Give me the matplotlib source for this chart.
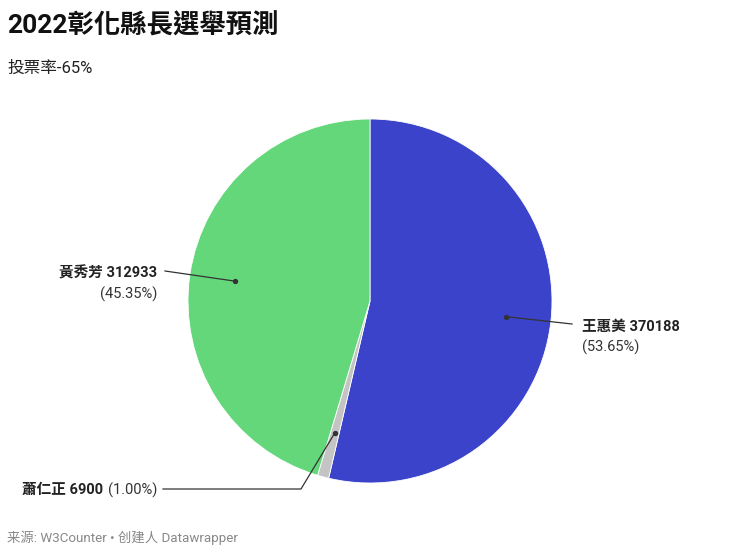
import numpy as np
import matplotlib.pyplot as plt

plt.rcParams['font.family'] = ['Roboto', 'Noto Sans CJK TC', 'DejaVu Sans']

# Data
names = ['王惠美', '蕭仁正', '黃秀芳']
votes = [370188, 6900, 312933]
shares = [53.65, 1.00, 45.35]
colors = ['#3a43c9', '#c4c4c4', '#64d77a']

W, H = 740, 552
fig = plt.figure(figsize=(W / 100, H / 100), dpi=100)
ax = fig.add_axes([0, 0, 1, 1])

cx, cy, R = 370, H - 301, 182
wedges, _ = ax.pie(votes, colors=colors, startangle=90, counterclock=False,
                   center=(cx, cy), radius=R, frame=True,
                   wedgeprops=dict(edgecolor='white', linewidth=0.6))
ax.set_xlim(0, W)
ax.set_ylim(0, H)
ax.set_aspect('equal')
ax.axis('off')

# anchor dots at slice mid-angles
total = sum(votes)
cum = np.cumsum([0] + votes[:-1])
mid = [(c + v / 2) / total * 360 for c, v in zip(cum, votes)]
dots = [(cx + 0.75 * R * np.sin(np.radians(a)), cy + 0.75 * R * np.cos(np.radians(a))) for a in mid]

line_kw = dict(color='#333333', lw=0.9, zorder=5)
txt_bold = dict(fontsize=10.5, fontweight='bold', color='#222222')
txt_norm = dict(fontsize=10.5, color='#333333')

# 王惠美
dx, dy = dots[0]
ax.plot([dx, 572], [dy, H - 324], **line_kw)
ax.scatter([dx], [dy], s=8, color='#333333', zorder=6)
ax.text(582, H - 327, f'{names[0]} {votes[0]}', ha='left', va='center', **txt_bold)
ax.text(582, H - 347, f'({shares[0]:.2f}%)', ha='left', va='center', **txt_norm)

# 黃秀芳
dx, dy = dots[2]
ax.plot([dx, 165], [dy, H - 271], **line_kw)
ax.scatter([dx], [dy], s=8, color='#333333', zorder=6)
ax.text(157, H - 273, f'{names[2]} {votes[2]}', ha='right', va='center', **txt_bold)
ax.text(157, H - 294, f'({shares[2]:.2f}%)', ha='right', va='center', **txt_norm)

# 蕭仁正
dx, dy = dots[1]
ax.plot([dx, 301, 163], [dy, H - 489, H - 489], **line_kw)
ax.scatter([dx], [dy], s=8, color='#333333', zorder=6)
t = ax.text(157, H - 490, f'({shares[1]:.2f}%)', ha='right', va='center', **txt_norm)
fig.canvas.draw()
bb = t.get_window_extent()
ax.text(bb.x0 - 4, H - 490, f'{names[1]} {votes[1]}', ha='right', va='center', **txt_bold)

# title etc.
fig.text(7 / W, 1 - 26 / H, '2022彰化縣長選舉預測', fontsize=19, fontweight='bold',
         color='#111111', ha='left', va='center')
fig.text(7 / W, 1 - 68 / H, '投票率-65%', fontsize=12, color='#222222', ha='left', va='center')
fig.text(7 / W, 1 - 538 / H, '来源: W3Counter • 创建人 Datawrapper', fontsize=9.6,
         color='#888888', ha='left', va='center')

fig.savefig('out.png', dpi=100)
